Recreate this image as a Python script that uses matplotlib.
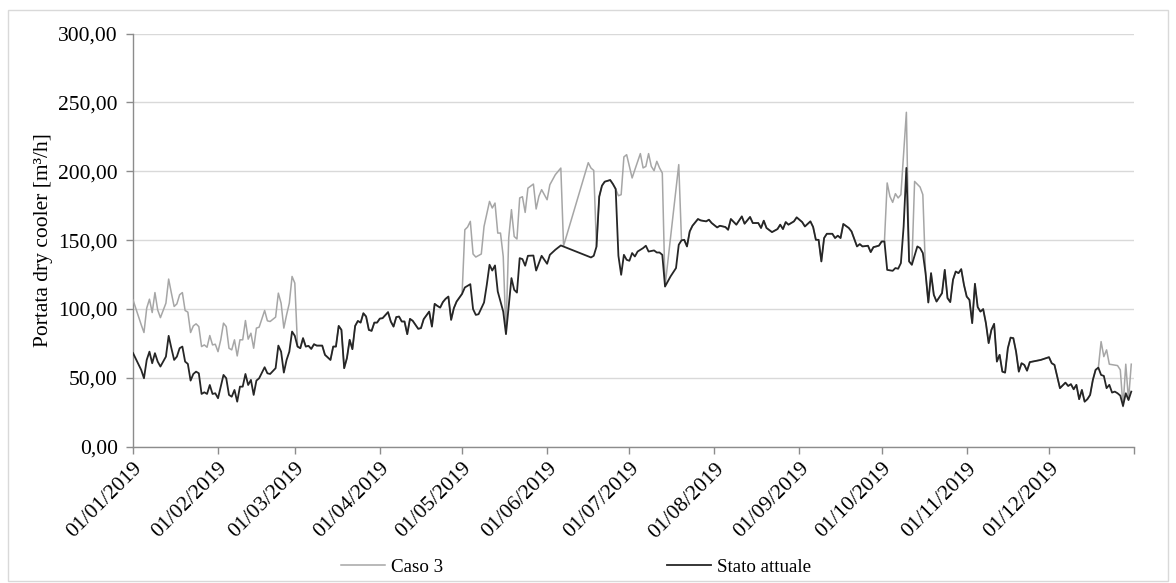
import matplotlib
matplotlib.use("Agg")
import matplotlib.pyplot as plt
import pandas as pd
from matplotlib.lines import Line2D
from matplotlib.patches import Rectangle
from matplotlib.ticker import FuncFormatter, MultipleLocator

plt.rcParams['font.family'] = ['Liberation Serif', 'DejaVu Serif']

# Daily flow rate of the dry cooler, 2019 (day offset from 1 Jan, m3/h)
stato_day = [0, 3, 4, 5, 6, 7, 8, 9, 10, 12, 13, 14, 15, 16, 17, 18, 19, 20, 21, 22,
             23, 24, 25, 26, 27, 28, 29, 30, 31, 32, 33, 34, 35, 36, 37, 38, 39, 40, 41, 42,
             43, 44, 45, 46, 48, 49, 50, 52, 53, 54, 55, 56, 57, 58, 59, 60, 61, 62, 63, 64,
             65, 66, 67, 69, 70, 72, 73, 74, 75, 76, 77, 78, 79, 80, 81, 82, 83, 84, 85, 86,
             87, 88, 89, 90, 91, 93, 94, 95, 96, 97, 98, 99, 100, 101, 102, 104, 105, 106, 108, 109,
             110, 111, 112, 113, 114, 115, 116, 117, 118, 120, 121, 123, 124, 125, 126, 128, 129, 130, 131, 132,
             133, 134, 135, 136, 137, 138, 139, 140, 141, 142, 143, 144, 146, 147, 148, 149, 151, 152, 154, 156,
             167, 168, 169, 170, 171, 172, 174, 175, 176, 177, 178, 179, 180, 181, 182, 183, 184, 186, 187, 188,
             190, 191, 192, 193, 194, 196, 198, 199, 200, 201, 202, 203, 204, 206, 207, 209, 210, 211, 213, 214,
             216, 217, 218, 220, 222, 223, 225, 226, 228, 229, 230, 231, 233, 235, 236, 237, 238, 239, 241, 242,
             244, 245, 247, 248, 249, 250, 251, 252, 253, 255, 256, 257, 258, 259, 261, 262, 264, 265, 266, 268,
             269, 270, 271, 272, 273, 274, 275, 277, 278, 279, 280, 281, 282, 283, 284, 286, 287, 288, 289, 290,
             291, 292, 293, 295, 296, 297, 298, 299, 300, 301, 302, 303, 304, 305, 306, 307, 308, 309, 310, 311,
             312, 313, 314, 315, 316, 317, 318, 319, 320, 321, 322, 323, 324, 325, 326, 327, 328, 331, 333, 334,
             335, 336, 337, 338, 340, 341, 342, 343, 344, 345, 346, 347, 348, 349, 350, 351, 352, 353, 354, 355,
             356, 357, 358, 359, 360, 361, 362, 363, 364]
stato_val = [68.0, 55.7, 49.7, 63.0, 69.0, 60.6, 67.9, 61.8, 58.2, 65.4, 80.5, 71.5, 63.0, 65.4, 71.5, 72.7, 61.8, 60.1, 48.0, 52.8,
             54.5, 53.3, 38.3, 39.5, 38.3, 44.8, 38.3, 38.8, 35.2, 43.6, 52.1, 49.7, 37.6, 36.3, 41.2, 32.7, 43.6, 43.6, 52.8, 44.8,
             48.5, 37.6, 48.0, 49.7, 57.7, 53.3, 52.8, 57.0, 73.4, 69.0, 53.8, 63.0, 69.0, 83.6, 80.5, 72.7, 71.5, 78.8, 72.7, 73.2,
             71.0, 74.4, 73.4, 73.4, 66.7, 63.0, 72.7, 72.7, 87.7, 84.8, 57.0, 64.3, 77.6, 70.8, 87.7, 91.3, 90.1, 96.9, 94.5, 84.8,
             84.1, 90.1, 90.1, 93.0, 93.3, 97.7, 90.9, 87.2, 94.1, 94.5, 90.9, 90.9, 81.7, 92.8, 91.4, 85.6, 86.1, 92.6, 98.1, 87.2,
             103.7, 102.2, 101.0, 105.0, 107.4, 109.0, 92.1, 100.6, 105.4, 111.0, 115.6, 118.0, 99.9, 95.7, 96.2, 104.7, 117.5, 132.1, 127.9, 131.6,
             112.7, 105.4, 98.1, 81.7, 101.8, 122.4, 113.9, 111.9, 136.9, 136.2, 131.4, 138.6, 138.8, 127.9, 133.3, 138.6, 132.8, 139.3, 143.0, 146.1,
             137.4, 138.6, 145.2, 181.5, 189.5, 192.4, 193.6, 190.7, 187.1, 138.6, 124.8, 139.3, 135.7, 135.0, 140.6, 138.1, 141.7, 144.2, 145.9, 141.7,
             142.5, 141.0, 141.0, 139.3, 116.3, 123.6, 129.7, 146.6, 149.8, 150.2, 145.4, 156.3, 160.4, 165.3, 164.3, 163.6, 164.8, 162.4, 159.2, 160.4,
             159.5, 157.5, 165.3, 161.2, 167.2, 161.9, 166.8, 162.4, 162.4, 158.8, 164.1, 158.8, 155.8, 158.0, 161.2, 158.0, 163.1, 161.2, 163.6, 166.5,
             163.1, 159.9, 163.6, 159.5, 150.2, 150.2, 134.5, 151.5, 154.6, 154.6, 151.5, 153.2, 151.5, 161.7, 158.8, 156.3, 145.4, 147.1, 145.4, 145.9,
             141.3, 144.9, 145.4, 146.0, 149.0, 149.0, 128.4, 127.7, 129.7, 129.2, 133.3, 159.9, 202.4, 134.5, 132.1, 145.4, 144.2, 140.6, 126.0, 104.7,
             126.0, 110.3, 105.4, 111.5, 128.4, 107.9, 105.0, 121.2, 127.2, 126.0, 128.9, 117.5, 109.0, 106.6, 89.7, 118.3, 101.4, 98.1, 99.9, 89.7,
             75.2, 84.8, 89.2, 61.8, 66.7, 54.5, 53.8, 71.5, 79.2, 78.8, 69.0, 54.5, 60.6, 59.4, 55.2, 61.4, 61.8, 63.0, 64.3, 65.0,
             60.6, 59.4, 50.9, 42.5, 46.5, 44.1, 45.4, 41.7, 44.9, 34.5, 41.2, 32.7, 34.5, 37.6, 48.5, 55.8, 57.4, 52.1, 51.4, 42.5,
             44.9, 39.3, 40.0, 38.8, 37.1, 29.6, 38.8, 33.9, 40.0]

# "Caso 3" follows "Stato attuale" except in these periods
caso3_winter_day = [0, 3, 4, 5, 6, 7, 8, 9, 10, 12, 13, 14, 15, 16, 17, 18, 19, 20, 21, 22,
                    23, 24, 25, 26, 27, 28, 29, 30, 31, 32, 33, 34, 35, 36, 37, 38, 39, 40, 41, 42,
                    43, 44, 45, 46, 48, 49, 50, 52, 53, 54, 55, 56, 57, 58, 59]
caso3_winter_val = [106.6, 88.5, 82.9, 100.6, 107.1, 97.4, 111.9, 99.3, 93.7, 104.2, 121.7, 111.5, 101.8, 103.7, 110.3, 111.9, 98.9, 97.7, 82.9, 87.7,
                    89.2, 87.2, 72.7, 73.9, 72.2, 80.7, 73.9, 74.4, 69.0, 77.6, 89.7, 87.2, 71.5, 70.3, 77.6, 65.9, 77.6, 77.6, 91.6, 78.1,
                    82.4, 71.5, 86.1, 86.8, 98.9, 91.4, 90.9, 94.1, 111.5, 104.2, 86.1, 95.7, 104.2, 123.6, 118.8]
caso3_may_day = [121, 122, 123, 124, 125, 127, 128, 130, 131, 132, 133, 134, 135, 136, 137, 138, 139, 140, 141, 142,
                 143, 144, 146, 147, 148, 149, 151, 152, 154, 156, 157, 166, 167, 168]
caso3_may_val = [157.5, 159.5, 163.6, 139.9, 137.7, 139.9, 159.9, 178.1, 173.3, 176.9, 155.1, 155.1, 138.1, 82.4, 151.6, 172.1, 152.6, 150.8, 180.6, 181.5,
                 170.1, 187.7, 190.7, 172.6, 181.8, 186.6, 179.3, 190.2, 197.5, 202.3, 145.8, 206.2, 202.3, 200.6]
caso3_july_day = [177, 178, 179, 180, 181, 182, 183, 185, 186, 187, 188, 189, 190, 191, 192, 193, 194, 199]
caso3_july_val = [182.2, 183.0, 210.4, 212.0, 203.5, 195.1, 201.1, 212.8, 202.4, 203.5, 212.8, 203.5, 200.4, 207.2, 202.4, 198.7, 116.3, 204.8]
caso3_oct_day = [275, 276, 277, 278, 279, 280, 281, 282, 283, 284, 285, 287, 288]
caso3_oct_val = [191.5, 181.7, 177.4, 183.7, 180.6, 183.0, 213.3, 242.8, 134.5, 132.1, 192.6, 188.5, 183.0]
caso3_dec_day = [353, 354, 355, 356, 359, 360, 361, 362, 363, 364]
caso3_dec_val = [76.3, 65.4, 70.3, 59.9, 58.9, 55.8, 29.1, 59.9, 33.9, 59.9]

month_labels = ['01/01/2019', '01/02/2019', '01/03/2019', '01/04/2019', '01/05/2019', '01/06/2019',
                '01/07/2019', '01/08/2019', '01/09/2019', '01/10/2019', '01/11/2019', '01/12/2019']
series_names = ['Caso 3', 'Stato attuale']
y_label = 'Portata dry cooler [m³/h]'

# Assemble the full "Caso 3" series
caso3 = dict(zip(stato_day, stato_val))
for days, vals in [(caso3_winter_day, caso3_winter_val), (caso3_may_day, caso3_may_val),
                   (caso3_july_day, caso3_july_val), (caso3_oct_day, caso3_oct_val),
                   (caso3_dec_day, caso3_dec_val)]:
    lo, hi = min(days), max(days)
    caso3 = {d: v for d, v in caso3.items() if not lo <= d <= hi}
    caso3.update(zip(days, vals))
caso3_day = sorted(caso3)
caso3_val = [caso3[d] for d in caso3_day]

start = pd.Timestamp('2019-01-01')
stato_dates = start + pd.to_timedelta(stato_day, unit='D')
caso3_dates = start + pd.to_timedelta(caso3_day, unit='D')

W, H = 1176, 583
fig = plt.figure(figsize=(W / 100, H / 100), dpi=100)
ax = fig.add_axes([133 / W, 1 - 446.7 / H, (1134 - 133) / W, (446.7 - 33.5) / H])

c_caso3 = '#a6a6a6'
c_stato = '#262626'
ax.plot(caso3_dates, caso3_val, color=c_caso3, lw=1.1, zorder=3)
ax.plot(stato_dates, stato_val, color=c_stato, lw=1.3, zorder=4)

ax.set_ylim(0, 300)
ax.yaxis.set_major_locator(MultipleLocator(50))
ax.yaxis.set_major_formatter(FuncFormatter(lambda v, p: f'{v:.2f}'.replace('.', ',')))
ax.grid(axis='y', color='#d9d9d9', lw=1.0, zorder=0)
ax.set_axisbelow(True)

tick_dates = list(pd.date_range('2019-01-01', periods=12, freq='MS')) + [pd.Timestamp('2020-01-01')]
ax.set_xlim(pd.Timestamp('2019-01-01'), pd.Timestamp('2020-01-01'))
ax.set_xticks(tick_dates)
ax.set_xticklabels(month_labels + [''], rotation=45, ha='right', va='top', rotation_mode='anchor')

for s in ['top', 'right']:
    ax.spines[s].set_visible(False)
for s in ['left', 'bottom']:
    ax.spines[s].set_color('#8c8c8c')
    ax.spines[s].set_linewidth(1.0)
ax.tick_params(axis='both', direction='out', length=5, color='#8c8c8c', width=1.0,
               labelsize=15.5, labelcolor='black')
ax.tick_params(axis='y', pad=6)
ax.tick_params(axis='x', pad=4)

ax.set_ylabel(y_label, fontsize=15.5, labelpad=4)

handles = [Line2D([], [], color=c_caso3, lw=1.1), Line2D([], [], color=c_stato, lw=1.3)]
fig.legend(handles, series_names, loc='center', bbox_to_anchor=(576 / W, 1 - 567 / H),
           ncol=2, frameon=False, fontsize=13.7, handlelength=2.3, handletextpad=0.3,
           columnspacing=11.8)

fig.patches.append(Rectangle((8 / W, 2 / H), (1168 - 8) / W, (581 - 10) / H,
                             transform=fig.transFigure, fill=False, edgecolor='#d9d9d9', lw=1.0))

fig.savefig('out.png', dpi=100)
